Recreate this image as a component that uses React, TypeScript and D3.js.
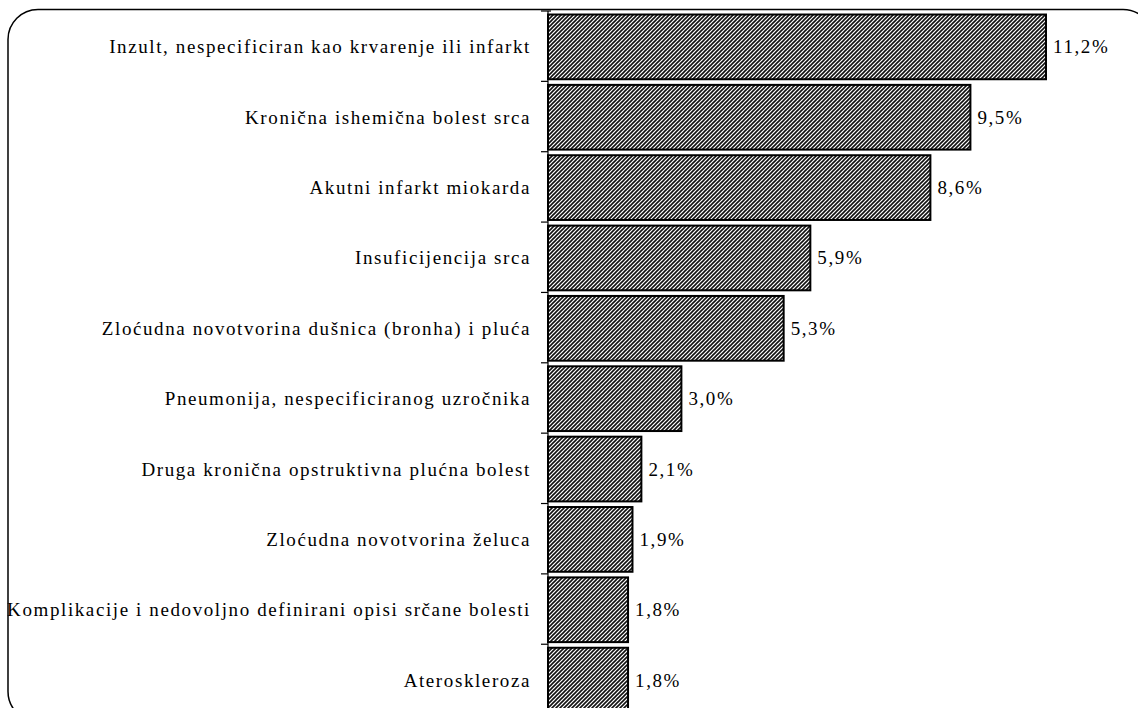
import React from "react";
import * as d3 from "d3";

// causes of death, share of all deaths (%)
const categories: string[] = [
	"Inzult, nespecificiran kao krvarenje ili infarkt",
	"Kronična ishemična bolest srca",
	"Akutni infarkt miokarda",
	"Insuficijencija srca",
	"Zloćudna novotvorina dušnica (bronha) i pluća",
	"Pneumonija, nespecificiranog uzročnika",
	"Druga kronična opstruktivna plućna bolest",
	"Zloćudna novotvorina želuca",
	"Komplikacije i nedovoljno definirani opisi srčane bolesti",
	"Ateroskleroza",
];
const values: number[] = [11.2, 9.5, 8.6, 5.9, 5.3, 3.0, 2.1, 1.9, 1.8, 1.8];

const W = 1138;
const H = 708;

const fmt = (v: number) => v.toFixed(1).replace(".", ",") + "%";

export default function App() {
	const axisX = 548;
	const x = d3.scaleLinear().domain([0, 11.2]).range([axisX, 1046]);
	const y = d3
		.scaleBand<string>()
		.domain(categories)
		.range([11, 716])
		.paddingInner(0.08)
		.paddingOuter(0.05);

	const step = y.step();
	const top = y.range()[0];
	const ticks = d3.range(categories.length + 1).map((i) => top + i * step);
	const textStyle: React.CSSProperties = {
		fontFamily: "'Liberation Serif', 'Times New Roman', Times, serif",
		fontSize: "19px",
		letterSpacing: "1.6px",
	};

	return (
		<svg
			width={W}
			height={H}
			style={{ position: "absolute", left: 0, top: 0, background: "#fff" }}
		>
			<defs>
				<pattern id="hatch" width="4" height="4" patternUnits="userSpaceOnUse">
					<rect width="4" height="4" fill="#fff" />
					<path
						d="M-1,1 l2,-2 M0,4 l4,-4 M3,5 l2,-2"
						stroke="#111"
						strokeWidth={1.6}
					/>
				</pattern>
			</defs>

			{/* chart frame (cropped at right / bottom) */}
			<rect
				x={8}
				y={9.5}
				width={1145}
				height={712}
				rx={30}
				fill="none"
				stroke="#000"
				strokeWidth={1.5}
			/>

			{categories.map((c, i) => {
				const by = y(c)!;
				const bh = y.bandwidth();
				const v = values[i];
				return (
					<g key={c}>
						<rect
							x={x(0)}
							y={by}
							width={x(v) - x(0)}
							height={bh}
							fill="url(#hatch)"
							stroke="#000"
							strokeWidth={2}
						/>
						<text
							x={531}
							y={by + bh / 2}
							textAnchor="end"
							dominantBaseline="central"
							style={textStyle}
							fill="#000"
						>
							{c}
						</text>
						<text
							x={x(v) + 7}
							y={by + bh / 2}
							dominantBaseline="central"
							style={textStyle}
							fill="#000"
						>
							{fmt(v)}
						</text>
					</g>
				);
			})}

			{/* category axis */}
			<line x1={axisX} x2={axisX} y1={top} y2={716} stroke="#000" strokeWidth={1.2} />
			{ticks.map((t, i) => (
				<line
					key={i}
					x1={axisX - 7}
					x2={i === 0 ? axisX + 3 : axisX}
					y1={t}
					y2={t}
					stroke="#000"
					strokeWidth={1.2}
				/>
			))}
		</svg>
	);
}
